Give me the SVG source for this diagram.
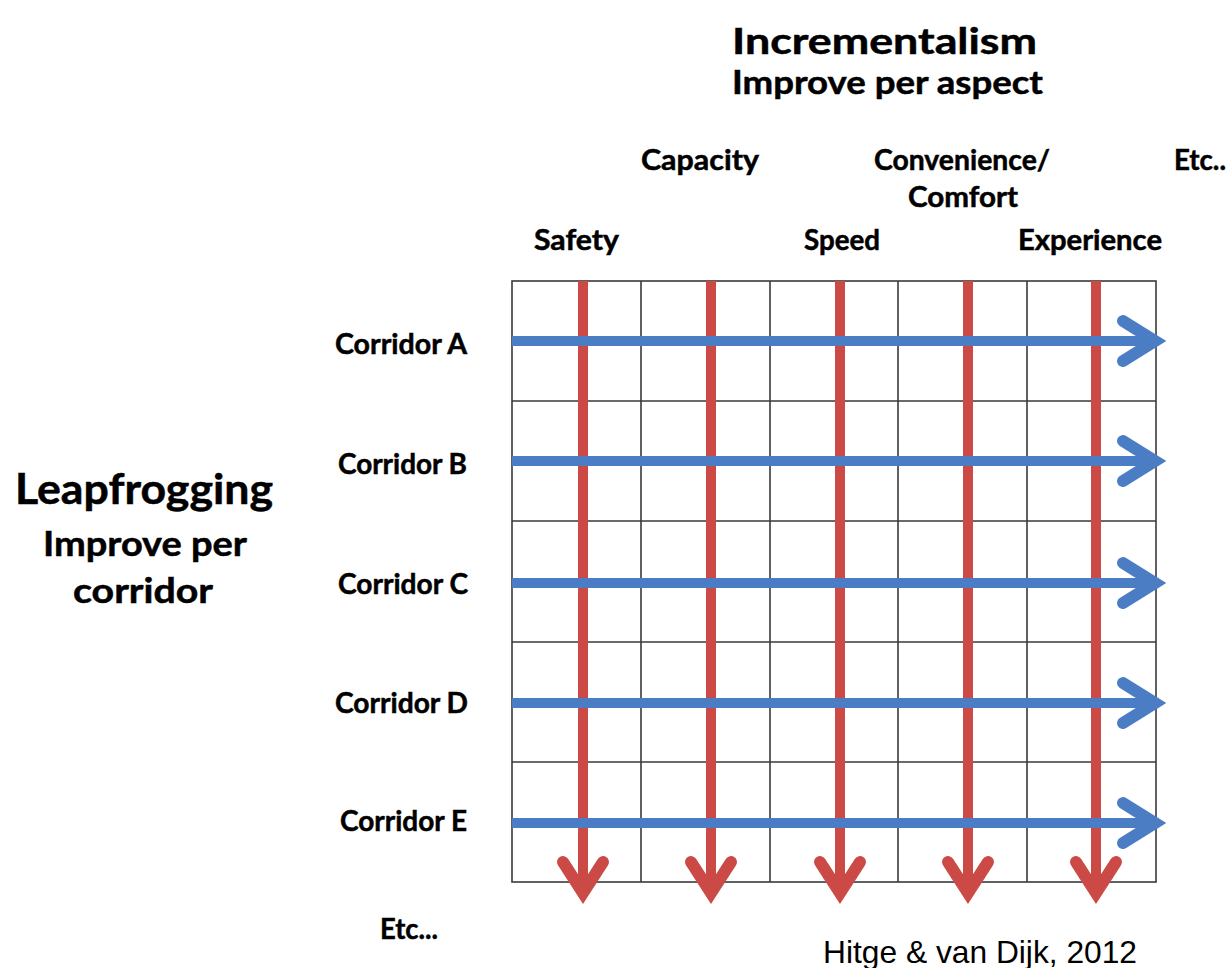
<svg xmlns="http://www.w3.org/2000/svg" width="1226" height="968" viewBox="0 0 1226 968">
<style>
.t{font-family:Lato,"Liberation Sans",sans-serif;font-weight:700;fill:#000;stroke:#000;stroke-width:0.5}
.grid{stroke:#3a3a3a;stroke-width:1.6;fill:none}
.red{stroke:#CC4A45;stroke-width:10;fill:none}
.redh{stroke:#CC4A45;stroke-width:12;fill:none;stroke-linecap:round;stroke-linejoin:miter;stroke-miterlimit:10}
.blue{stroke:#4A7DC4;stroke-width:10;fill:none}
.blueh{stroke:#4A7DC4;stroke-width:12;fill:none;stroke-linecap:round;stroke-linejoin:miter;stroke-miterlimit:10}
</style>
<rect width="1226" height="968" fill="#fff"/>
<g id="titles">
<text class="t" x="732" y="54" font-size="37" textLength="305" lengthAdjust="spacingAndGlyphs">Incrementalism</text>
<text class="t" x="732" y="94" font-size="33" textLength="311" lengthAdjust="spacingAndGlyphs">Improve per aspect</text>
<text class="t" x="15" y="504" font-size="42" textLength="258" lengthAdjust="spacingAndGlyphs">Leapfrogging</text>
<text class="t" x="43" y="556" font-size="34" textLength="204" lengthAdjust="spacingAndGlyphs">Improve per</text>
<text class="t" x="73" y="603" font-size="34" textLength="140" lengthAdjust="spacingAndGlyphs">corridor</text>
</g>
<g id="grid">
<rect class="grid" x="512" y="281" width="644" height="601"/>
<path class="grid" d="M641 281V882M770 281V882M898 281V882M1027 281V882M512 401H1156M512 521H1156M512 642H1156M512 762H1156"/>
</g>
<g id="connectors">
<g id="aspect-arrows">
<path class="red" d="M583 281V888M711 281V888M840 281V888M968 281V888M1096 281V888"/>
<polyline class="redh" points="563,862 583,893 603,862"/>
<polyline class="redh" points="691,862 711,893 731,862"/>
<polyline class="redh" points="820,862 840,893 860,862"/>
<polyline class="redh" points="948,862 968,893 988,862"/>
<polyline class="redh" points="1076,862 1096,893 1116,862"/>
</g>
<g id="corridor-arrows">
<path class="blue" d="M512 341H1150M512 461H1150M512 583H1150M512 703H1150M512 823H1150"/>
<polyline class="blueh" points="1123,321 1155,341 1123,361"/>
<polyline class="blueh" points="1123,441 1155,461 1123,481"/>
<polyline class="blueh" points="1123,563 1155,583 1123,603"/>
<polyline class="blueh" points="1123,683 1155,703 1123,723"/>
<polyline class="blueh" points="1123,803 1155,823 1123,843"/>
</g>
</g>
<g id="aspects">
<text class="t" x="641" y="170" font-size="28" textLength="118" lengthAdjust="spacingAndGlyphs">Capacity</text>
<text class="t" x="874" y="170" font-size="28" textLength="176" lengthAdjust="spacingAndGlyphs">Convenience/</text>
<text class="t" x="908" y="207" font-size="28" textLength="110" lengthAdjust="spacingAndGlyphs">Comfort</text>
<text class="t" x="1174" y="170" font-size="28" textLength="52" lengthAdjust="spacingAndGlyphs">Etc..</text>
<text class="t" x="534" y="250" font-size="28" textLength="85" lengthAdjust="spacingAndGlyphs">Safety</text>
<text class="t" x="804" y="250" font-size="28" textLength="76" lengthAdjust="spacingAndGlyphs">Speed</text>
<text class="t" x="1018" y="250" font-size="28" textLength="144" lengthAdjust="spacingAndGlyphs">Experience</text>
</g>
<g id="corridors">
<text class="t" x="335" y="354" font-size="28" textLength="132" lengthAdjust="spacingAndGlyphs">Corridor A</text>
<text class="t" x="338" y="474" font-size="28" textLength="129" lengthAdjust="spacingAndGlyphs">Corridor B</text>
<text class="t" x="338" y="594" font-size="28" textLength="130" lengthAdjust="spacingAndGlyphs">Corridor C</text>
<text class="t" x="335" y="713" font-size="28" textLength="133" lengthAdjust="spacingAndGlyphs">Corridor D</text>
<text class="t" x="340" y="831" font-size="28" textLength="127" lengthAdjust="spacingAndGlyphs">Corridor E</text>
<text class="t" x="380" y="939" font-size="28" textLength="58" lengthAdjust="spacingAndGlyphs">Etc...</text>
</g>
<g id="credit">
<text x="823" y="963" font-family="'Liberation Sans',Arial,sans-serif" font-size="32" textLength="314" lengthAdjust="spacingAndGlyphs" fill="#000">Hitge &amp; van Dijk, 2012</text>
</g>
</svg>
